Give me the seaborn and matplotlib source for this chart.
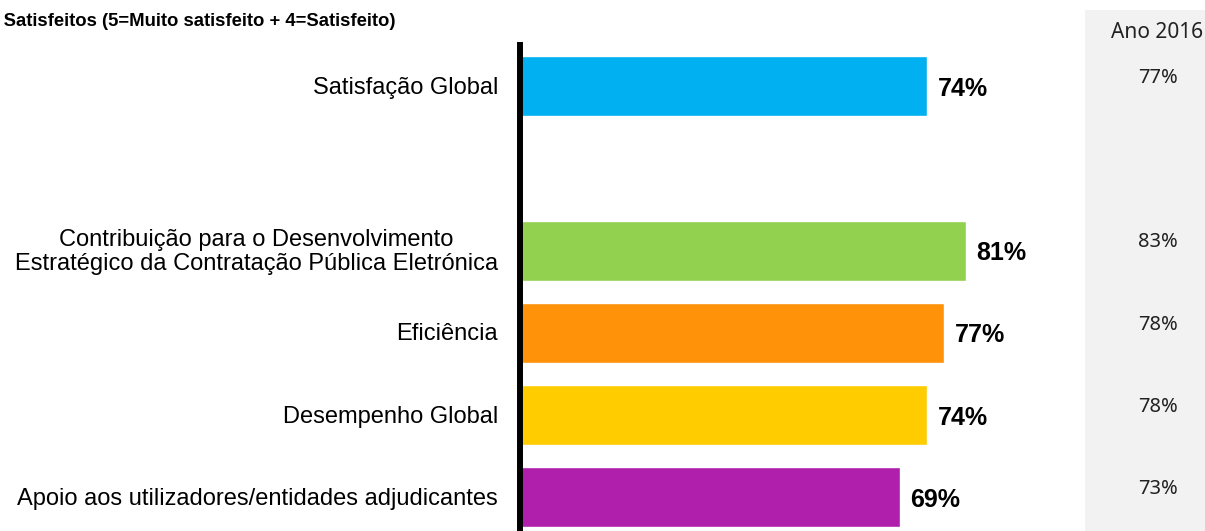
import matplotlib
matplotlib.use('Agg')
import matplotlib.pyplot as plt
from matplotlib.patches import Rectangle
import seaborn as sns
import pandas as pd

categories = ['Satisfação Global',
              'Contribuição para o Desenvolvimento\nEstratégico da Contratação Pública Eletrónica',
              'Eficiência',
              'Desempenho Global',
              'Apoio aos utilizadores/entidades adjudicantes']
values_2017 = [74, 81, 77, 74, 69]
values_2016 = [77, 83, 78, 78, 73]
colors = ['#00B0F0', '#92D050', '#FF9208', '#FFCC00', '#B01EAC']

# layout: empty slot after the global satisfaction bar
slots = [0, 2, 3, 4, 5]

sns.set_style('white')
plt.rcParams['font.family'] = ['Liberation Sans', 'DejaVu Sans']

fig = plt.figure(figsize=(12.05, 5.31), dpi=100)
ax = fig.add_axes([520 / 1205, 0, (1080 - 520) / 1205, (531 - 45) / 531])

df = pd.DataFrame({'cat': categories, 'val': values_2017, 'pos': slots})
sns.barplot(data=df, x='val', y='pos', hue='cat', palette=colors, orient='h',
            native_scale=True, width=0.73, dodge=False, legend=False, ax=ax,
            saturation=1)

ax.set_xlim(0, 101.8)
ax.set_ylim(5.41, -0.5)
ax.set_xticks([])
ax.set_yticks([])
ax.set_xlabel('')
ax.set_ylabel('')
for s in ['top', 'right', 'bottom']:
    ax.spines[s].set_visible(False)
ax.spines['left'].set_linewidth(4.3)
ax.spines['left'].set_color('black')

for cat, v, p in zip(categories, values_2017, slots):
    ax.text(v + 2.0, p + 0.03, f'{v}%', ha='left', va='center',
            fontsize=18, fontweight='bold', color='black')
    ax.text(-4.0, p + 0.02, cat, ha='right', va='center', multialignment='center',
            fontsize=17, color='black', linespacing=1.12)

# 2016 column
fig.patches.append(Rectangle((1085 / 1205, 0), 120 / 1205, (531 - 10) / 531,
                             transform=fig.transFigure, facecolor='#F2F2F2',
                             edgecolor='none', zorder=0))
fig.text(1157 / 1205, 1 - 33 / 531, 'Ano 2016', ha='center', va='center',
         fontsize=15, color='#222222', family=['Noto Sans', 'DejaVu Sans'])
for v, p in zip(values_2016, slots):
    y = ax.transData.transform((0, p - 0.10))[1]
    fig.text(1158 / 1205, y / fig.bbox.height, f'{v}%', ha='center', va='center',
             fontsize=14.5, color='#222222', family=['Noto Sans', 'DejaVu Sans'])

fig.text(-18 / 1205, 1 - 21 / 531, '% Satisfeitos (5=Muito satisfeito + 4=Satisfeito)',
         ha='left', va='center', fontsize=13.3, fontweight='bold', color='black',
         family=['Liberation Sans Narrow', 'Liberation Sans', 'DejaVu Sans'])

fig.savefig('out.png', dpi=100)
